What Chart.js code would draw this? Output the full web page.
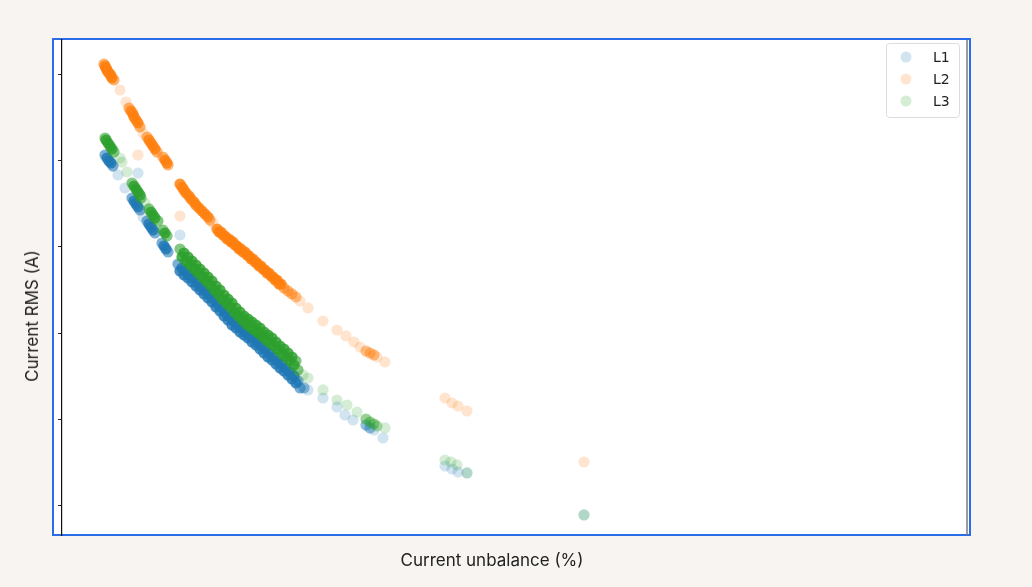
<!DOCTYPE html>
<html>
<head>
<meta charset="utf-8">
<script src="https://cdn.jsdelivr.net/npm/chart.js@4"></script>
<style>
  html,body{margin:0;padding:0;background:#f7f4f1;}
  #wrap{position:relative;width:1032px;height:587px;overflow:hidden;}
  #frame{position:absolute;left:52px;top:38px;width:915px;height:494px;border:2px solid #2b6de8;background:#fff;}
  #c{position:absolute;left:0;top:0;}
  .lab{position:absolute;font-family:Inter,"Open Sans",sans-serif;font-size:17px;color:#222;white-space:nowrap;}
  #ylab{left:32px;top:316px;transform:translate(-50%,-50%) rotate(-90deg);}
  #xlab{left:492px;top:560px;transform:translate(-50%,-50%);}
</style>
</head>
<body>
<div id="wrap">
  <div id="frame"></div>
  <canvas id="c" width="1032" height="587"></canvas>
  <div class="lab" id="ylab">Current RMS (A)</div>
  <div class="lab" id="xlab">Current unbalance (%)</div>
</div>
<script>
// [unbalance %, current RMS A, number of coincident readings]
const seriesLabels = ['L1', 'L2', 'L3'];
const yTicks = [10, 20, 30, 40, 50, 60];

const l1 = [
  [0.43,50.62,4],[0.45,50.28,8],[0.47,49.93,8],[0.49,49.70,8],[0.51,49.35,4],
  [0.56,48.31,1],[0.76,48.54,1],[0.63,46.81,1],
  [0.70,45.65,4],[0.72,45.30,8],[0.74,44.95,8],[0.76,44.61,8],[0.78,44.26,4],
  [0.81,43.45,1],
  [0.85,42.99,4],[0.87,42.64,8],[0.89,42.29,8],[0.91,41.94,8],[0.93,41.60,4],
  [1.00,40.44,4],[1.02,40.09,8],[1.04,39.75,8],[1.06,39.40,4],
  [1.18,41.37,1],
  [1.16,38.01,4],[1.18,37.20,8],[1.20,37.55,8],[1.22,36.74,8],[1.24,37.20,8],[1.26,36.39,8],
  [1.28,36.74,8],[1.30,35.93,8],[1.32,36.39,8],[1.34,35.46,8],[1.36,35.81,8],[1.38,35.00,8],
  [1.40,35.35,8],[1.42,34.54,8],[1.44,34.88,8],[1.46,34.08,8],[1.48,34.42,8],[1.50,33.61,8],
  [1.52,33.96,8],[1.54,33.03,8],[1.56,33.38,8],[1.58,32.57,8],[1.60,32.92,8],[1.62,31.99,8],
  [1.64,32.34,8],[1.66,31.53,8],[1.68,31.88,8],[1.70,30.95,8],[1.72,31.41,8],[1.74,30.60,8],
  [1.76,30.95,8],[1.78,30.14,8],[1.80,30.60,8],[1.82,29.79,8],[1.84,30.25,8],[1.86,29.45,8],
  [1.88,29.79,8],[1.90,28.98,8],[1.92,29.44,8],[1.94,28.64,8],[1.96,29.10,8],[1.98,28.17,8],
  [2.00,28.52,8],[2.02,27.71,8],[2.04,28.17,8],[2.06,27.25,8],[2.08,27.71,8],[2.10,26.90,8],
  [2.12,27.25,8],[2.14,26.44,8],[2.16,26.78,8],[2.18,25.97,8],[2.20,26.44,8],[2.22,25.63,8],
  [2.24,25.97,8],[2.26,25.16,8],[2.28,25.51,8],[2.30,24.70,8],[2.32,25.05,8],[2.34,24.24,8],
  [2.36,24.47,4],[2.38,23.66,4],
  [2.42,23.66,3],[2.46,23.43,1],[2.61,22.50,1],[2.75,21.46,1],[2.83,20.53,1],[2.91,19.95,1],
  [3.04,19.37,3],[3.08,19.03,3],[3.12,18.80,1],[3.21,17.87,1],
  [3.83,14.63,1],[3.90,14.28,1],[3.96,13.94,1],[4.05,13.82,1],
  [5.22,8.96,1]
];

const l2 = [
  [0.42,61.16,4],[0.43,60.93,8],[0.44,60.69,8],[0.45,60.46,8],[0.46,60.23,8],[0.48,60.00,8],
  [0.49,59.77,8],[0.50,59.54,8],[0.52,59.31,4],
  [0.58,58.15,1],[0.64,56.76,1],
  [0.67,56.06,4],[0.69,55.72,8],[0.71,55.37,8],[0.72,55.02,8],[0.74,54.68,8],[0.76,54.33,8],[0.78,53.87,4],
  [0.81,53.17,1],[0.76,50.62,1],
  [0.85,52.71,4],[0.87,52.36,8],[0.89,52.01,8],[0.91,51.67,8],[0.93,51.32,8],[0.95,50.97,4],
  [1.01,50.39,4],[1.03,50.05,8],[1.05,49.70,8],[1.06,49.47,4],
  [1.18,47.27,8],[1.20,46.92,8],[1.22,46.57,8],[1.24,46.23,8],[1.27,45.88,8],[1.29,45.53,8],
  [1.32,45.19,8],[1.34,44.84,8],[1.37,44.49,8],[1.40,44.14,8],[1.43,43.80,8],[1.46,43.45,8],
  [1.48,43.10,4],[1.51,42.75,1],
  [1.18,43.56,1],
  [1.55,42.06,8],[1.57,41.71,8],[1.59,41.71,8],[1.61,41.37,8],[1.63,41.25,8],[1.65,40.90,8],
  [1.67,40.90,8],[1.69,40.56,8],[1.71,40.56,8],[1.73,40.21,8],[1.75,40.09,8],[1.77,39.75,8],
  [1.79,39.75,8],[1.81,39.40,8],[1.83,39.40,8],[1.85,39.05,8],[1.87,38.94,8],[1.89,38.59,8],
  [1.91,38.59,8],[1.93,38.24,8],[1.95,38.13,8],[1.97,37.78,8],[1.99,37.78,8],[2.01,37.43,8],
  [2.03,37.31,8],[2.05,36.97,8],[2.07,36.97,8],[2.09,36.62,8],[2.11,36.50,8],[2.13,36.16,8],
  [2.15,36.16,8],[2.17,35.69,8],[2.19,35.69,8],
  [2.22,35.23,4],[2.26,34.88,4],[2.30,34.54,4],[2.34,34.19,3],[2.38,33.73,1],
  [2.46,32.92,1],[2.61,31.41,1],[2.75,30.37,1],[2.84,29.68,1],[2.92,28.98,1],[2.98,28.40,1],
  [3.04,27.94,3],[3.08,27.71,3],[3.12,27.48,3],[3.15,27.25,1],[3.23,26.67,1],
  [3.83,22.50,1],[3.90,21.92,1],[3.96,21.57,1],[4.05,21.00,1],
  [5.22,15.09,1]
];

const l3 = [
  [0.43,52.59,4],[0.44,52.36,8],[0.46,52.01,8],[0.48,51.67,8],[0.50,51.32,8],[0.52,50.97,4],
  [0.58,50.28,1],[0.60,49.81,1],[0.65,48.66,1],
  [0.70,47.38,4],[0.72,47.04,8],[0.74,46.69,8],[0.76,46.34,8],[0.78,45.99,8],[0.79,45.65,4],
  [0.83,45.07,1],
  [0.87,44.38,4],[0.89,44.03,8],[0.91,43.68,8],[0.93,43.33,8],[0.96,42.99,4],
  [1.01,41.94,4],[1.03,41.60,8],[1.05,41.25,4],
  [1.18,39.74,4],[1.20,38.82,8],[1.22,39.28,8],[1.24,38.35,8],[1.26,38.82,8],[1.28,37.89,8],
  [1.30,38.36,8],[1.32,37.43,8],[1.34,37.89,8],[1.36,36.96,8],[1.38,37.43,8],[1.40,36.50,8],
  [1.42,36.97,8],[1.44,36.04,8],[1.46,36.50,8],[1.48,35.57,8],[1.50,36.04,8],[1.52,35.00,8],
  [1.54,35.46,8],[1.56,34.53,8],[1.58,35.00,8],[1.60,33.95,8],[1.62,34.42,8],[1.64,33.49,8],
  [1.66,33.96,8],[1.68,33.03,8],[1.70,33.49,8],[1.72,32.45,8],[1.74,32.91,8],[1.76,31.99,8],
  [1.78,32.45,8],[1.80,31.52,8],[1.82,31.99,8],[1.84,31.06,8],[1.86,31.64,8],[1.88,30.71,8],
  [1.90,31.29,8],[1.92,30.37,8],[1.94,30.95,8],[1.96,30.02,8],[1.98,30.60,8],[2.00,29.67,8],
  [2.02,30.14,8],[2.04,29.21,8],[2.06,29.79,8],[2.08,28.86,8],[2.10,29.44,8],[2.12,28.51,8],
  [2.14,28.98,8],[2.16,28.05,8],[2.18,28.52,8],[2.20,27.59,8],[2.22,28.17,8],[2.24,27.24,8],
  [2.26,27.71,8],[2.28,26.78,8],[2.30,27.24,8],[2.32,26.32,8],[2.34,26.78,4],[2.36,25.74,4],
  [2.41,25.16,1],[2.46,24.81,1],[2.61,23.43,1],[2.75,22.27,1],[2.85,21.69,1],[2.95,20.88,1],
  [3.04,20.07,3],[3.08,19.72,3],[3.12,19.49,3],[3.15,19.26,2],[3.23,19.03,1],
  [3.83,15.32,1],[3.89,15.09,1],[3.95,14.75,1],[4.05,13.82,1],
  [5.22,8.96,1]
];

const palette = [[31,119,180],[255,127,14],[44,160,44]];
const baseAlpha = 0.2;

function toPoints(arr){ return arr.map(p => ({x:p[0], y:p[1], n:p[2]})); }
function colorFor(i){
  return ctx => {
    const n = (ctx.raw && ctx.raw.n) ? ctx.raw.n : 1;
    const a = 1 - Math.pow(1 - baseAlpha, n);
    const c = palette[i];
    return `rgba(${c[0]},${c[1]},${c[2]},${a.toFixed(3)})`;
  };
}

const series = [l1, l2, l3];
const datasets = series.map((s, i) => ({
  label: seriesLabels[i],
  data: toPoints(s),
  backgroundColor: colorFor(i),
  borderWidth: 0,
  pointRadius: 5.6,
  pointHoverRadius: 5.6,
  order: 3 - i
}));

const decor = {
  id: 'decor',
  afterDraw(chart){
    const {ctx, chartArea} = chart;
    ctx.save();
    ctx.strokeStyle = '#7a7a7a';
    ctx.lineWidth = 1.5;
    ctx.beginPath();
    ctx.moveTo(chartArea.right, chartArea.top);
    ctx.lineTo(chartArea.right, chartArea.bottom);
    ctx.stroke();
    const lx = 886, ly = 43, lw = 73, lh = 74;
    ctx.fillStyle = 'rgba(255,255,255,0.8)';
    ctx.strokeStyle = '#dcdcdc';
    ctx.lineWidth = 1;
    ctx.beginPath();
    if (ctx.roundRect) ctx.roundRect(lx + 0.5, ly + 0.5, lw, lh, 3); else ctx.rect(lx + 0.5, ly + 0.5, lw, lh);
    ctx.fill();
    ctx.stroke();
    ctx.font = '14px "DejaVu Sans", sans-serif';
    ctx.textBaseline = 'middle';
    chart.data.datasets.forEach((ds, i) => {
      const cy = 57 + i * 22;
      const c = palette[i];
      ctx.fillStyle = `rgba(${c[0]},${c[1]},${c[2]},${baseAlpha})`;
      ctx.beginPath();
      ctx.arc(906, cy, 5.5, 0, Math.PI * 2);
      ctx.fill();
      ctx.fillStyle = '#222';
      ctx.fillText(ds.label, 933, cy + 1);
    });
    ctx.restore();
  }
};

new Chart(document.getElementById('c'), {
  type: 'scatter',
  data: { datasets },
  options: {
    responsive: false,
    animation: false,
    layout: { padding: { left: 57, right: 65, top: 40, bottom: 52 } },
    plugins: { legend: { display: false }, tooltip: { enabled: false } },
    scales: {
      x: { type: 'linear', min: 0, max: 9.05, display: false },
      y: {
        type: 'linear', min: 6.64, max: 63.94,
        afterBuildTicks: s => { s.ticks = yTicks.map(v => ({ value: v })); },
        afterFit: s => { s.width = 5; },
        ticks: { display: false },
        grid: { display: true, drawOnChartArea: false, drawTicks: true, tickLength: 4, color: '#222', lineWidth: 1 },
        border: { display: true, color: '#111', width: 1.2 }
      }
    }
  },
  plugins: [decor]
});
</script>
</body>
</html>
